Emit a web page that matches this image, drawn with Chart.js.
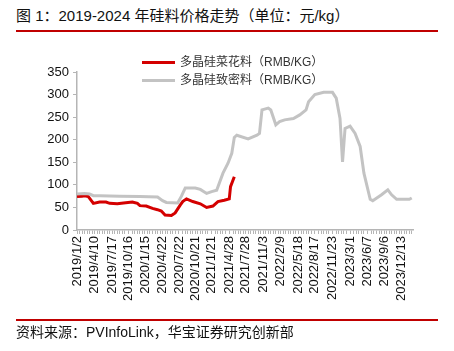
<!DOCTYPE html>
<html>
<head>
<meta charset="utf-8">
<script src="https://cdn.jsdelivr.net/npm/chart.js@4.4.1/dist/chart.umd.min.js"></script>
<style>
  body { margin: 0; background: #fff; font-family: "Liberation Sans", "Noto Sans CJK SC", sans-serif; }
  #wrap { position: relative; width: 454px; height: 351px; overflow: hidden; }
  #title { position: absolute; left: 16px; top: 4px; font-size: 15px; color: #111; white-space: nowrap; }
  .rule { position: absolute; left: 16px; width: 422px; height: 2px; background: #c00000; }
  #source { position: absolute; left: 16px; top: 321px; font-size: 14px; color: #111; white-space: nowrap; }
  #legend { position: absolute; left: 142px; top: 53px; font-size: 12px; color: #333; }
  .item { height: 18px; line-height: 18px; white-space: nowrap; }
  .swatch { display: inline-block; width: 33px; height: 3px; vertical-align: middle; margin-right: 5px; }
  canvas { position: absolute; left: 0; top: 0; }
</style>
</head>
<body>
<div id="wrap">
  <div id="title">图 1：2019-2024 年硅料价格走势（单位：元/kg）</div>
  <div class="rule" style="top:30px"></div>
  <canvas id="chart" width="454" height="351"></canvas>
  <div id="legend"></div>
  <div class="rule" style="top:319px"></div>
  <div id="source">资料来源：PVInfoLink，华宝证券研究创新部</div>
</div>
<script>
'use strict';
// week index (from 2019/1/2) -> date label shown on the x axis
var tickWeeks = [0, 14, 28, 41, 54, 68, 81, 94, 107, 121, 134, 148, 162, 176, 189, 203, 217, 231, 244, 258];
var tickLabels = ['2019/1/2', '2019/4/10', '2019/7/17', '2019/10/16', '2020/1/15', '2020/4/22', '2020/7/22',
    '2020/10/21', '2021/1/21', '2021/4/28', '2021/7/28', '2021/11/3', '2022/2/9', '2022/5/18', '2022/8/17',
    '2022/11/23', '2023/3/1', '2023/6/7', '2023/9/6', '2023/12/13'];

var seriesNames = ['多晶硅菜花料（RMB/KG）', '多晶硅致密料（RMB/KG）'];
var seriesColors = ['#d40000', '#c3c3c3'];

// 菜花料 (week, price)
var cauliWeeks = [0, 4, 6, 9, 13, 18, 23, 26, 32, 37, 44, 48, 50, 55, 60, 64, 67, 70, 75, 78, 82, 84, 87, 92, 98, 103, 108, 112, 117, 121, 122, 125];
var cauliPrices = [74, 75, 76, 74, 59, 62, 62, 59, 58, 60, 62, 59, 54, 53, 48, 45, 42, 33, 32, 38, 55, 63, 69, 63, 58, 50, 53, 63, 66, 69, 96, 118];

// 致密料 (week, price)
var denseWeeks = [0, 6, 10, 13, 18, 34, 50, 64, 68, 71, 80, 83, 86, 94, 98, 103, 107, 111, 116, 120, 123, 125, 127, 136, 143, 145, 147, 152, 154, 158, 161, 165, 172, 177, 182, 184, 189, 196, 203, 206, 209, 211, 213, 217, 221, 225, 228, 233, 235, 242, 247, 250, 254, 264, 266];
var densePrices = [80, 81, 80, 76, 76, 75, 74, 73, 65, 61, 60, 75, 93, 93, 90, 81, 85, 88, 126, 148, 170, 205, 210, 202, 210, 214, 266, 270, 266, 233, 240, 244, 247, 255, 266, 284, 300, 305, 305, 292, 247, 151, 225, 230, 214, 185, 126, 68, 65, 78, 89, 78, 68, 68, 71];

var yTicks = [0, 50, 100, 150, 200, 250, 300, 350];

function toPoints(xs, ys) {
    var pts = [];
    for (let i = 0; i < xs.length; i++) pts.push({ x: xs[i], y: ys[i] });
    return pts;
}

var legend = document.getElementById('legend');
seriesNames.forEach(function (name, i) {
    var row = document.createElement('div');
    row.className = 'item';
    row.innerHTML = '<span class="swatch" style="background:' + seriesColors[i] + '"></span>' + name;
    legend.appendChild(row);
});

var axisColor = '#b5b5b5';
var lastWeek = 267;

new Chart(document.getElementById('chart').getContext('2d'), {
    type: 'line',
    data: {
        datasets: [{
            label: seriesNames[1],
            data: toPoints(denseWeeks, densePrices),
            borderColor: seriesColors[1],
            borderWidth: 3,
            pointRadius: 0,
            tension: 0
        }, {
            label: seriesNames[0],
            data: toPoints(cauliWeeks, cauliPrices),
            borderColor: seriesColors[0],
            borderWidth: 3,
            pointRadius: 0,
            tension: 0
        }]
    },
    options: {
        responsive: false,
        animation: false,
        layout: { padding: { top: 72, right: 41, left: 0, bottom: 41 } },
        plugins: { legend: { display: false }, tooltip: { enabled: false } },
        scales: {
            x: {
                type: 'linear',
                min: 0,
                max: lastWeek,
                afterFit: function (scale) { scale.height = 80; },
                afterBuildTicks: function (scale) {
                    var vals = tickWeeks.slice();
                    for (let w = 0; w <= lastWeek; w += 2) {
                        if (vals.indexOf(w) < 0 && vals.indexOf(w + 1) < 0 && vals.indexOf(w - 1) < 0) vals.push(w);
                    }
                    vals.sort(function (a, b) { return a - b; });
                    scale.ticks = vals.map(function (v) { return { value: v }; });
                },
                ticks: {
                    autoSkip: false,
                    minRotation: 90,
                    maxRotation: 90,
                    padding: 2,
                    color: '#111',
                    font: { family: 'Liberation Sans', size: 13 },
                    callback: function (v) {
                        var i = tickWeeks.indexOf(v);
                        return i < 0 ? '' : tickLabels[i];
                    }
                },
                grid: { drawOnChartArea: false, drawTicks: true, tickLength: 4, color: axisColor },
                border: { color: axisColor, width: 1.5 }
            },
            y: {
                min: 0,
                max: 350,
                afterFit: function (scale) { scale.width = 77; },
                afterBuildTicks: function (scale) {
                    scale.ticks = yTicks.map(function (v) { return { value: v }; });
                },
                ticks: {
                    padding: 4,
                    color: '#111',
                    font: { family: 'Liberation Sans', size: 13 }
                },
                grid: { drawOnChartArea: false, drawTicks: true, tickLength: 4, color: axisColor },
                border: { color: axisColor, width: 1.5 }
            }
        }
    }
});
</script>
</body>
</html>
